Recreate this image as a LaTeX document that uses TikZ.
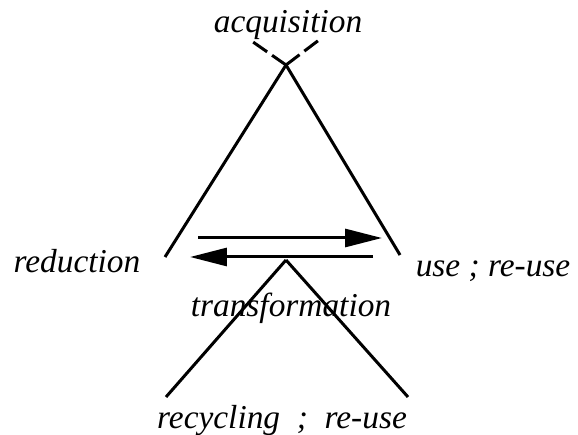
\documentclass[tikz,border=0pt]{standalone}
\usepackage{fontspec}
\setmainfont{Liberation Serif}
\usepackage{tikz}
\usetikzlibrary{arrows.meta, positioning, calc}

\tikzset{
    lbl/.style={font=\fontsize{19}{22}\selectfont\itshape, inner sep=0pt, anchor=base},
    leg/.style={line width=0.06cm},
    dleg/.style={leg, dash pattern=on 0.34cm off 0.12cm},
    flow/.style={line width=0.06cm, -{Triangle[length=0.74cm, width=0.36cm]}},
}

\begin{document}
\begin{tikzpicture}[x=0.02cm, y=-0.02cm]
    \useasboundingbox (0,0) rectangle (578,435);

    % Apexes and line ends
    \coordinate (top) at (286,65);
    \coordinate (bot) at (286,260);
    \coordinate (aqL) at (253,42);
    \coordinate (aqR) at (319,40);
    \coordinate (redEnd) at (165,257);
    \coordinate (useEnd) at (400,255);
    \coordinate (recL) at (166,397);
    \coordinate (recR) at (408,397);

    % Labels
    \node[lbl] (acq) at (288,33) {acquisition};
    \node[lbl] (red) at (77,273) {reduction};
    \node[lbl] (use) at (493,277) {use ; re-use};
    \node[lbl] (trans) at (291,317) {transformation};
    \node[lbl] (rec) at (282,428) {recycling\ \ ;\ \ re-use};

    % Upper cone
    \draw[dleg] (top) -- (aqL);
    \draw[dleg] (top) -- (aqR);
    \draw[leg] (top) -- (redEnd);
    \draw[leg] (top) -- (useEnd);

    % Lower cone
    \draw[leg] (bot) -- (recL);
    \draw[leg] (bot) -- (recR);

    % Arrows
    \coordinate (fwdS) at (198,238);
    \coordinate (fwdE) at (382,238);
    \coordinate (bckS) at (373,257);
    \coordinate (bckE) at (190,257);
    \draw[flow] (fwdS) -- (fwdE);
    \draw[flow] (bckS) -- (bckE);
\end{tikzpicture}
\end{document}
